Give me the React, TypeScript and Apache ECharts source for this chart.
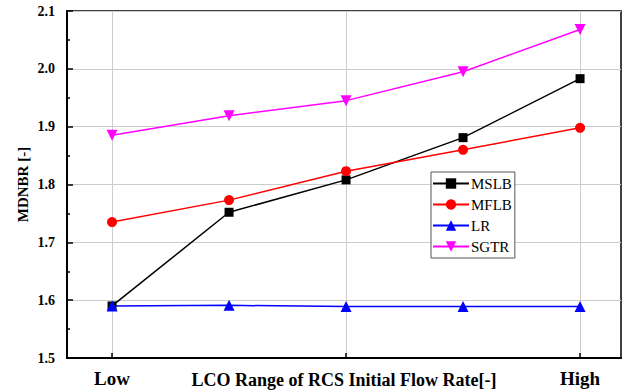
import React, { useEffect, useRef } from "react";
import * as echarts from "echarts";

const positions = [0, 1, 2, 3, 4];
const tickLabels: Record<number, string> = { 0: "Low", 4: "High" };
const mslb = [1.59, 1.752, 1.808, 1.881, 1.983];
const mflb = [1.735, 1.773, 1.823, 1.86, 1.898];
const lr = [1.59, 1.591, 1.589, 1.589, 1.589];
const sgtr = [1.885, 1.919, 1.945, 1.995, 2.068];

const serif = "'Liberation Serif', 'Times New Roman', serif";

function pairs(vals: number[]) {
  return positions.map((p, i) => [p, vals[i]]);
}

export default function App() {
  const ref = useRef<HTMLDivElement>(null);
  useEffect(() => {
    if (!ref.current) return;
    const chart = echarts.init(ref.current, null, { renderer: "svg" });
    const mk = (name: string, data: number[], color: string, symbol: string, size: number, rotate = 0) => ({
      name,
      type: "line",
      data: pairs(data),
      symbol,
      symbolSize: size,
      symbolRotate: rotate,
      lineStyle: { color, width: 1.5 },
      itemStyle: { color },
    });
    chart.setOption({
      animation: false,
      backgroundColor: "#fff",
      grid: {
        left: 67,
        right: 5,
        top: 11,
        bottom: 34,
        containLabel: false,
        outerBoundsMode: "none",
        show: true,
        borderColor: "#000",
        borderWidth: 1.5,
      },
      legend: {
        left: 431,
        top: 172,
        orient: "vertical",
        itemGap: 6,
        itemWidth: 36,
        itemHeight: 13,
        padding: [4, 3, 4, 1],
        borderColor: "#555",
        borderWidth: 1,
        backgroundColor: "#fff",
        textStyle: { fontFamily: serif, fontSize: 15, color: "#000", padding: [0, 0, 0, -3] },
        data: ["MSLB", "MFLB", "LR", "SGTR"],
      },
      xAxis: {
        type: "value",
        min: -0.385,
        max: 4.35,
        name: "LCO Range of RCS Initial Flow Rate[-]",
        nameLocation: "middle",
        nameGap: 13,
        nameMoveOverlap: false,
        nameTextStyle: { fontFamily: serif, fontWeight: "bold", fontSize: 18, color: "#000" },
        axisLine: { show: true, onZero: false, lineStyle: { color: "#000", width: 2 } },
        axisTick: { show: true, inside: true, length: 5, customValues: [0, 2, 4], lineStyle: { color: "#000", width: 1.5 } },
        axisLabel: {
          customValues: [0, 4],
          formatter: (v: number) => tickLabels[Math.round(v)] ?? "",
          fontFamily: serif,
          fontWeight: "bold",
          fontSize: 19,
          color: "#000",
          margin: 11,
        },
        splitLine: { show: true, lineStyle: { color: "#ccc", width: 1 } },
      },
      yAxis: {
        type: "value",
        min: 1.5,
        max: 2.1,
        interval: 0.1,
        name: "MDNBR [-]",
        nameLocation: "middle",
        nameGap: 37,
        nameMoveOverlap: false,
        nameTextStyle: { fontFamily: serif, fontWeight: "bold", fontSize: 15, color: "#000" },
        axisLine: { show: true, onZero: false, lineStyle: { color: "#000", width: 2 } },
        axisTick: { show: true, inside: true, length: 6, lineStyle: { color: "#000", width: 1.5 } },
        minorTick: { show: true, splitNumber: 2, length: 3, lineStyle: { color: "#000", width: 1.5 } },
        axisLabel: {
          formatter: (v: number) => v.toFixed(1),
          fontFamily: serif,
          fontWeight: "bold",
          fontSize: 14,
          color: "#000",
          margin: 12,
        },
        splitLine: { show: true, lineStyle: { color: "#ccc", width: 1 } },
      },
      series: [
        mk("MSLB", mslb, "#000000", "rect", 9),
        mk("MFLB", mflb, "#ff0000", "circle", 10),
        mk("LR", lr, "#0000ff", "triangle", 11),
        mk("SGTR", sgtr, "#ff00ff", "triangle", 11, 180),
      ],
    });
    return () => chart.dispose();
  }, []);
  return <div ref={ref} style={{ width: 626, height: 392, position: "absolute", left: 0, top: 0 }} />;
}
